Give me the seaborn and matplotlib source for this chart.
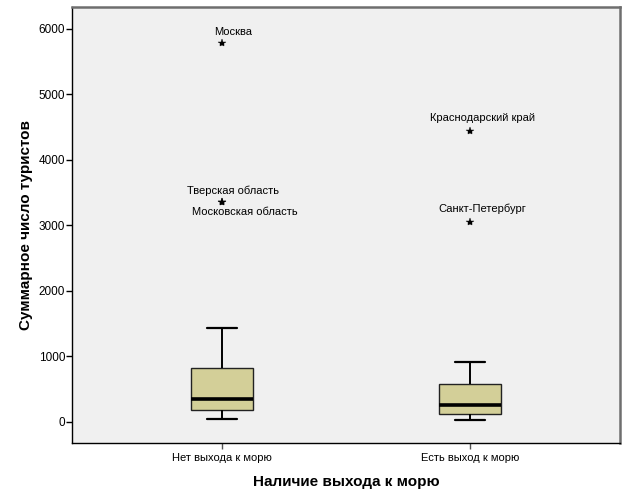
"""
SPSS-style boxplot: total tourists by sea access (Russian regions).
"""
import matplotlib
matplotlib.use("Agg")
import matplotlib.pyplot as plt
import numpy as np
import pandas as pd
import seaborn as sns

# groups
categories = ["Нет выхода к морю", "Есть выход к морю"]

# values per group (whiskers, hinges, median, extremes)
no_sea = [46, 70, 95, 120, 150, 183, 210, 240, 280, 320, 351, 420, 500,
          600, 710, 824, 1050, 1435, 3350, 3358, 5782]
sea = [30, 50, 70, 90, 105, 122, 150, 180, 210, 235, 260, 300, 350,
       420, 500, 580, 680, 790, 916, 3050, 4440]

# labelled extreme values
outlier_names = ["Москва", "Тверская область", "Московская область",
                 "Краснодарский край", "Санкт-Петербург"]
outlier_group = [0, 0, 0, 1, 1]
outlier_values = [5782, 3358, 3350, 4440, 3050]
# label offsets from the star, in pixels
outlier_offset = [(11, 11), (11, 11), (23, -10), (13, 13), (12, 13)]

y_ticks = [0, 1000, 2000, 3000, 4000, 5000, 6000]

df = pd.DataFrame({
    "group": [categories[0]] * len(no_sea) + [categories[1]] * len(sea),
    "value": no_sea + sea,
})

sns.set_style("white")
plt.rcParams["font.family"] = ["Liberation Sans", "DejaVu Sans"]
plt.rcParams["text.color"] = "black"
plt.rcParams["axes.labelcolor"] = "black"
plt.rcParams["xtick.color"] = "black"
plt.rcParams["ytick.color"] = "black"

fig = plt.figure(figsize=(6.29, 5.04), dpi=100)
ax = fig.add_axes([72 / 629, 1 - 443 / 504, 548 / 629, 436 / 504])
ax.set_facecolor("#f0f0f0")

sns.boxplot(data=df, x="group", y="value", order=categories, ax=ax,
            width=0.25, color="#d3cf98", saturation=1, whis=1.5,
            linecolor="black", linewidth=1.0,
            boxprops=dict(edgecolor="#222222", linewidth=1.0),
            medianprops=dict(color="black", linewidth=2.6),
            whiskerprops=dict(color="black", linewidth=1.4),
            capprops=dict(color="black", linewidth=1.6),
            flierprops=dict(marker="*", markersize=6, markerfacecolor="black",
                            markeredgecolor="black", markeredgewidth=0.3))

# cap width ~ half the box
for line in ax.lines:
    xd = np.asarray(line.get_xdata(), dtype=float)
    yd = np.asarray(line.get_ydata(), dtype=float)
    if len(xd) == 2 and yd[0] == yd[1] and abs(xd[1] - xd[0]) > 0:
        c = xd.mean()
        if abs(abs(xd[1] - xd[0]) - 0.25) > 1e-6:
            line.set_xdata([c - 0.06, c + 0.06])

for name, g, v, (dx, dy) in zip(outlier_names, outlier_group, outlier_values, outlier_offset):
    ax.annotate(name, (g, v), xytext=(dx, dy), textcoords="offset pixels",
                ha="center", va="center", fontsize=8, color="black")

ax.set_xlim(-0.605, 1.605)
ax.set_ylim(-325, 6331)
ax.set_yticks(y_ticks)
ax.set_yticklabels([str(t) for t in y_ticks], fontsize=8.5)
ax.tick_params(axis="x", labelsize=8, length=4, width=1, color="#555555",
               labelcolor="black", direction="out", pad=3, bottom=True)
ax.tick_params(axis="y", length=4, width=1, color="black", direction="out",
               left=True, pad=1)

ax.set_xlabel("Наличие выхода к морю", fontsize=11, fontweight="bold", labelpad=9)
ax.set_ylabel("Суммарное число туристов", fontsize=11, fontweight="bold", labelpad=4)

for side in ["left", "bottom"]:
    ax.spines[side].set_color("black")
    ax.spines[side].set_linewidth(1.0)
for side in ["top", "right"]:
    ax.spines[side].set_visible(True)
    ax.spines[side].set_color("#6e6e6e")
    ax.spines[side].set_linewidth(1.8)

fig.savefig("out.png", dpi=100, facecolor="white")
